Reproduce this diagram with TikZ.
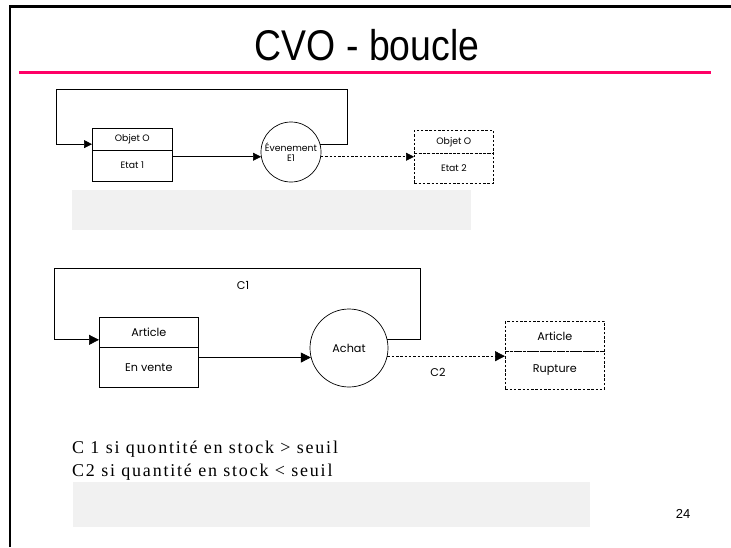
\documentclass[tikz,border=0pt]{standalone}
\usepackage{fontspec}
\setmainfont{Liberation Sans}
\newfontfamily\geo{Poppins}
\newfontfamily\serifls[LetterSpace=10]{Liberation Serif}
\usetikzlibrary{arrows.meta}
\definecolor{pinkline}{HTML}{FF0066}
\definecolor{grayfill}{HTML}{F1F1F1}
\tikzset{
  boxpart/.style={draw, line width=0.7pt, inner sep=0pt, anchor=north west},
  dashpart/.style={boxpart, dash pattern=on 2.5pt off 1.8pt},
  evt/.style={draw, circle, line width=0.7pt, inner sep=0pt, align=center},
  flow/.style={line width=0.7pt},
  tipA/.style={-{Triangle[length=8pt,width=8pt]}},
  tipB/.style={-{Triangle[length=10pt,width=10pt]}},
  dashline/.style={dash pattern=on 2.5pt off 1.8pt},
  lblA/.style={font=\geo\fontsize{9.3}{10.5}\selectfont},
  lblB/.style={font=\geo\fontsize{11.2}{12}\selectfont},
}
\begin{document}
\begin{tikzpicture}[x=1pt,y=-1pt]
\useasboundingbox (0,0) rectangle (731,547);
\fill[white] (0,0) rectangle (731,547);
% frame
\draw[line width=2.5pt] (10,547) -- (10,6.5) -- (731,6.5);
\draw[pinkline, line width=3pt] (19,72.5) -- (711,72.5);
\node[anchor=base, font=\fontsize{43}{43}\selectfont] (title) at (367,60) {\scalebox{0.87}[1]{CVO - boucle}};

% ---- diagram 1
\node[boxpart, minimum width=80pt, minimum height=22pt, lblA] (o1top) at (92,127.5) {Objet O};
\node[boxpart, minimum width=80pt, minimum height=31pt, lblA] (o1bot) at (92,149.5) {Etat 1};
\node[evt, minimum size=60pt, lblA] (e1) at (291,152) {Évenement\\E1};
\node[dashpart, minimum width=79pt, minimum height=23pt, lblA] (d1top) at (414,130) {Objet O};
\node[dashpart, minimum width=79pt, minimum height=30pt, lblA] (d1bot) at (414,153) {Etat 2};
\coordinate (l1r) at (347,89);
\coordinate (l1l) at (56,89);
\draw[flow, tipA] (e1.15) -| (l1r) -- (l1l) |- (o1top.west |- e1.15);
\draw[flow, tipA] (o1bot.east |- e1.189) -- (e1.189);
\draw[flow, tipA, dashline] (e1.-9) -- (d1bot.west |- e1.-9);
\fill[grayfill] (72,190) rectangle (471,230);

% ---- diagram 2
\node[boxpart, minimum width=99pt, minimum height=30pt, lblB] (b2top) at (99,317) {Article};
\node[boxpart, minimum width=99pt, minimum height=40pt, lblB] (b2bot) at (99,347) {En vente};
\node[evt, minimum size=78pt, lblB] (a2) at (349,348) {Achat};
\node[dashpart, minimum width=99pt, minimum height=30pt, lblB] (d2top) at (505,321) {Article};
\node[dashpart, minimum width=99pt, minimum height=38pt, lblB] (d2bot) at (505,351) {Rupture};
\coordinate (l2r) at (420,268);
\coordinate (l2l) at (54,268);
\draw[flow, tipB] (a2.12) -| (l2r) -- (l2l) |- (b2top.west |- a2.12);
\draw[flow, tipB] (b2bot.east |- a2.194) -- (a2.194);
\draw[flow, tipB, dashline] (a2.-12) -- (d2bot.west |- a2.-12);
\node[lblB] (c1) at (243,285) {C1};
\node[lblB] (c2) at (438,372) {C2};

% ---- text
\node[anchor=base west, inner sep=0pt, font=\serifls\fontsize{18}{18}\selectfont] (t1) at (72,453) {C 1 si quontité en stock > seuil};
\node[anchor=base west, inner sep=0pt, font=\serifls\fontsize{18}{18}\selectfont] (t2) at (72,476) {C2 si quantité en stock < seuil};
\fill[grayfill] (73,482) rectangle (590,527);
\node[font=\fontsize{13}{13}\selectfont] (pg) at (683,514) {24};
\end{tikzpicture}
\end{document}
